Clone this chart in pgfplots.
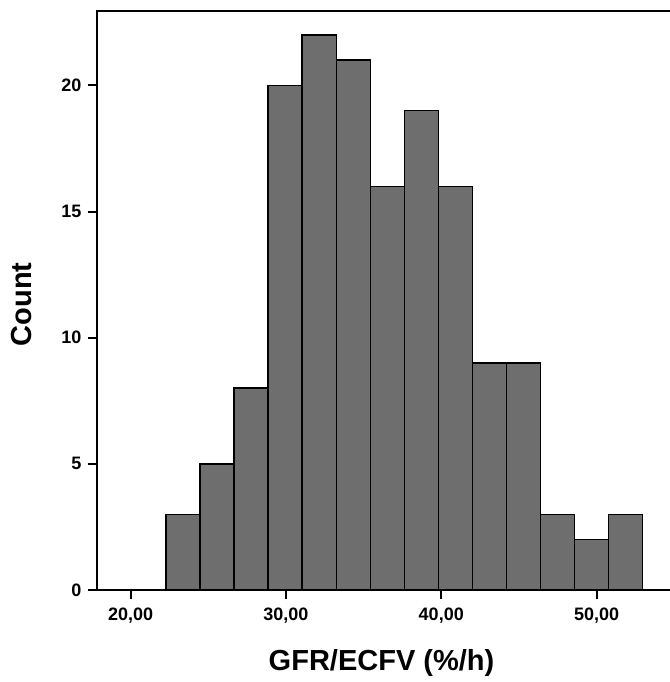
\documentclass[border=0pt]{standalone}
\usepackage{pgfplots}
\pgfplotsset{compat=1.18}
\usepackage{fontspec}
\setmainfont{Liberation Sans}
\definecolor{barfill}{RGB}{110,110,110}
\begin{document}
\begin{tikzpicture}
\begin{axis}[
  scale only axis, width=575pt, height=579pt,
  xmin=17.83, xmax=54.86, ymin=0, ymax=22.95,
  axis line style={line width=1.8pt},
  tick align=outside, major tick length=9pt,
  tick style={line width=2pt, black},
  xtick={20,30,40,50}, ytick={0,5,10,15,20},
  minor tick num=0,
  xtick pos=bottom, ytick pos=left,
  xticklabel style={font=\fontsize{18}{20}\selectfont\bfseries, yshift=-5pt},
  yticklabel style={font=\fontsize{18}{20}\selectfont\bfseries, xshift=-3pt},
  /pgf/number format/assume math mode=true,
  x tick label style={/pgf/number format/.cd, use comma, fixed, fixed zerofill, precision=2},
  y tick label style={/pgf/number format/.cd, fixed, precision=0},
  xlabel={GFR/ECFV (\%/h)}, ylabel={Count},
  xlabel style={font=\fontsize{29}{32}\selectfont\bfseries, at={(rel axis cs:0.5,0)}, anchor=center, yshift=-73pt, xshift=-3pt},
  ylabel style={font=\fontsize{29}{32}\selectfont\bfseries, at={(rel axis cs:0,0.5)}, anchor=center, yshift=75pt, xshift=-4pt},
  clip=false,
]
\addplot[ybar interval, fill=barfill, draw=black, line width=1.4pt] coordinates {
(22.27,3) (24.46,5) (26.66,8) (28.85,20) (31.04,22) (33.24,21) (35.43,16)
(37.62,19) (39.81,16) (42.01,9) (44.20,9) (46.39,3) (48.59,2) (50.78,3) (52.97,3)
};
\end{axis}
\pgfresetboundingbox
\path[use as bounding box] (-97pt,-92pt) rectangle (572pt,590pt);
\end{tikzpicture}
\end{document}
